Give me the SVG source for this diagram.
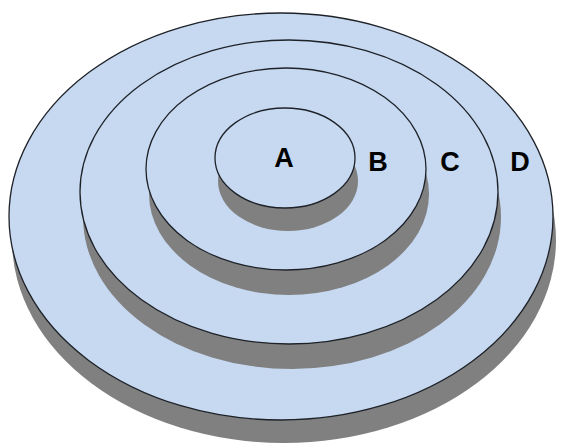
<svg xmlns="http://www.w3.org/2000/svg" width="564" height="446" viewBox="0 0 564 446">
<style>
.shadow{fill:#808080;stroke:none}
.top{fill:#c6d9f1;stroke:#1e2228;stroke-width:1.3}
.lbl{font-family:"Liberation Sans",Arial,sans-serif;font-weight:bold;font-size:27px;fill:#000;text-anchor:middle}
</style>
<rect width="564" height="446" fill="#fff"/>
<g id="ring-D">
<ellipse class="shadow" cx="284" cy="240" rx="272" ry="203"/>
<ellipse class="top" cx="281" cy="216.5" rx="272" ry="203.5"/>
<text class="lbl" x="520" y="171">D</text>
</g>
<g id="ring-C">
<ellipse class="shadow" cx="292" cy="217" rx="209" ry="152"/>
<ellipse class="top" cx="289" cy="192" rx="209" ry="152"/>
<text class="lbl" x="450" y="171">C</text>
</g>
<g id="ring-B">
<ellipse class="shadow" cx="289" cy="194" rx="140" ry="101"/>
<ellipse class="top" cx="286" cy="169" rx="140" ry="101"/>
<text class="lbl" x="378" y="171">B</text>
</g>
<g id="ring-A">
<ellipse class="shadow" cx="288" cy="181" rx="70" ry="50"/>
<ellipse class="top" cx="285" cy="158" rx="70" ry="50"/>
<text class="lbl" x="284" y="167">A</text>
</g>
</svg>
